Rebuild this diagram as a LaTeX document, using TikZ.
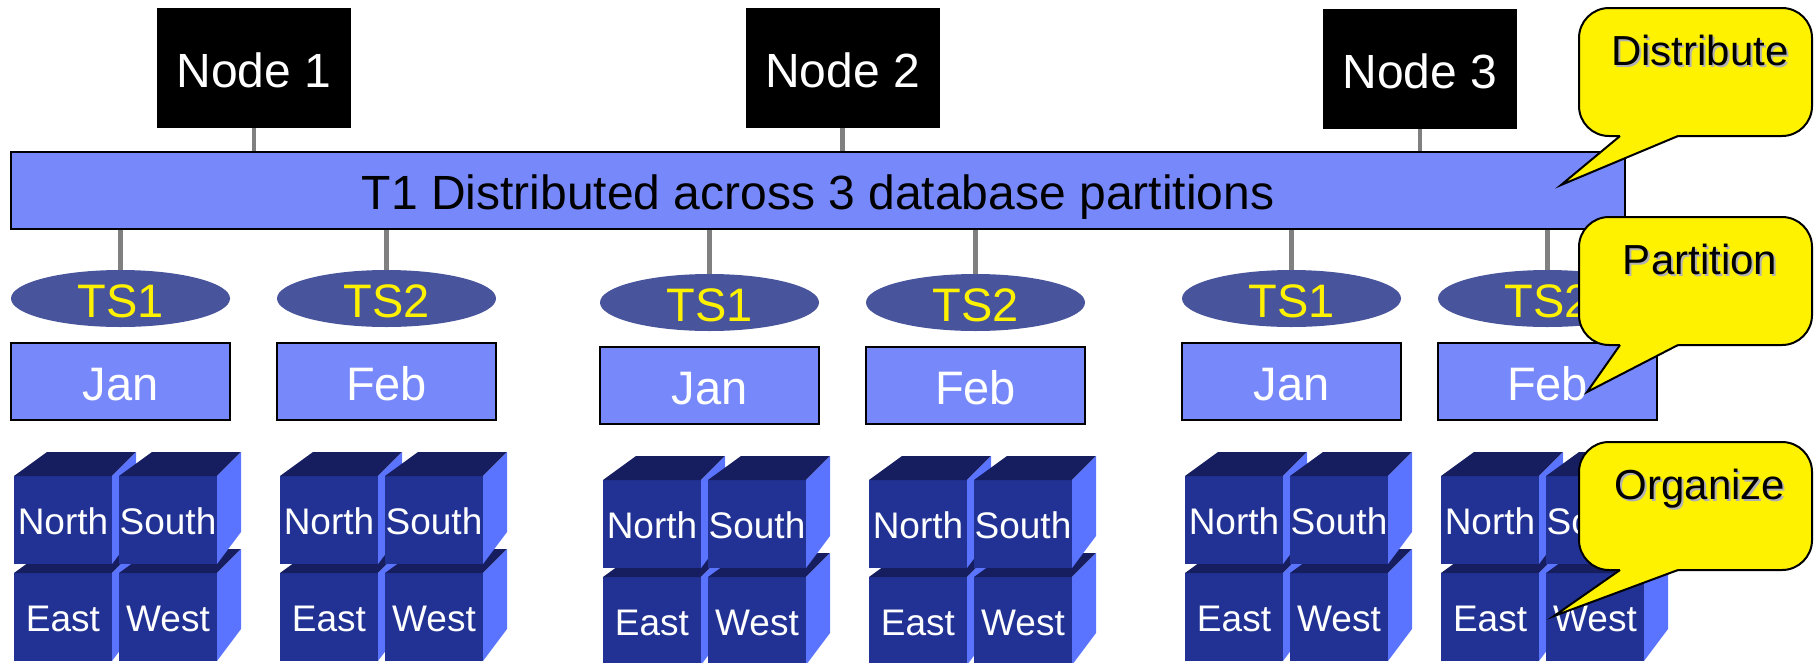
\documentclass[tikz,border=0pt]{standalone}
\usepackage{fontspec}
\setmainfont{Liberation Sans}
\usetikzlibrary{positioning,shapes.geometric}

\definecolor{tableblue}{RGB}{119,137,250}
\definecolor{tsblue}{RGB}{72,84,155}
\definecolor{cubefrontc}{RGB}{33,50,148}
\definecolor{cubetopc}{RGB}{22,30,96}
\definecolor{cubesidec}{RGB}{91,116,255}
\definecolor{linkgray}{RGB}{128,128,128}

\begin{document}
\begin{tikzpicture}[x=1pt, y=-1pt]

        \def\boxw{219}          % width of tablespaces and ranges
        \def\cubew{98}          % width of the front face of a cube
        \def\cubeh{88}          % height of the front face of a cube
        \tikzset{fontpx/.style = {font={\fontsize{#1pt}{#1pt}\selectfont}}}
        \tikzstyle{dbnode}=[fill=black,text=white,minimum width=194pt,minimum height=120pt,inner sep=0pt,fontpx=48,text height=38pt,text depth=0pt]
        \tikzstyle{tablebar}=[draw=black,line width=1.5pt,fill=tableblue,minimum width=1614pt,minimum height=77pt,inner sep=0pt,fontpx=48,text height=38pt,text depth=0pt]
        \tikzstyle{tspace}=[ellipse,fill=tsblue,text=yellow,minimum width=\boxw pt,minimum height=57pt,inner sep=0pt,fontpx=47,text height=37pt,text depth=0pt]
        \tikzstyle{monthbox}=[draw=black,line width=2pt,fill=tableblue,text=white,minimum width=\boxw pt,minimum height=77pt,inner sep=0pt,fontpx=47,text height=37pt,text depth=0pt]
        \tikzstyle{cubefront}=[fill=cubefrontc,text=white,minimum width=\cubew pt,minimum height=\cubeh pt,inner sep=0pt,outer sep=0pt,fontpx=37,text height=29pt,text depth=0pt]
        \tikzstyle{cubetop}=[fill=cubetopc]
        \tikzstyle{cubeside}=[fill=cubesidec]
        \tikzstyle{connector}=[draw=linkgray,line width=4.5pt]
        \tikzstyle{callbox}=[draw=black,line width=2pt,fill=yellow,rounded corners=30pt,minimum width=233pt,minimum height=128pt,inner sep=0pt,outer sep=0pt]
        \tikzstyle{calltext}=[fontpx=42,inner sep=0pt,text height=34pt,text depth=0pt]

        % cube: front top-left x, y, name, label
        \def\regioncube#1#2#3#4{%
                \node[cubefront] (#3) at ({#1+49},{#2+44}) {#4};
                \fill[cubetop] (#3.north west) -- ++(33,-24) -- ++(89,0) -- (#3.north east) -- cycle;
                \fill[cubeside] (#3.north east) -- ++(24,-24) -- ++(0,80) -- (#3.south east) -- cycle;
        }
        \def\shadowed#1{\rlap{\kern2pt\raisebox{-2pt}{\textcolor{black!30}{#1}}}#1}

        \useasboundingbox (0,0) rectangle (1814,662);

        % Draw the database partition nodes
        \node[dbnode] (Node-1) at (254,68) {Node 1};
        \node[dbnode] (Node-2) at (842.5,68) {Node 2};
        \node[dbnode] (Node-3) at (1420,69) {Node 3};

        % Draw the table
        \node[tablebar] (T1) at (818,190.5) {T1 Distributed across 3 database partitions};
        \foreach \n in {1,...,3}
                \draw[connector] (Node-\n) -- (Node-\n |- T1.north);

        % Draw the tablespaces, ranges and cubes
        \foreach \gx/\gy/\ts/\mon [count=\i] in {11/0/TS1/Jan, 277/0/TS2/Feb, 600/4/TS1/Jan, 866/4/TS2/Feb, 1182/0/TS1/Jan, 1438/0/TS2/Feb}{
                \node[tspace] (TS-\i) at ({\gx+109.5},{298.5+\gy}) {\ts};
                \draw[connector] (T1.south -| TS-\i) -- (TS-\i.north);
                \node[monthbox] (M-\i) at ({\gx+109.5},{381.5+\gy}) {\mon};
                % lower row first, the upper row covers its tops
                \regioncube{\gx+3}{573+\gy}{East-\i}{East}
                \regioncube{\gx+108}{573+\gy}{West-\i}{West}
                \regioncube{\gx+3}{476+\gy}{North-\i}{North}
                \regioncube{\gx+108}{476+\gy}{South-\i}{South}
        }

        % Draw the callouts
        \foreach \name/\top/\tipx/\tipy in {Distribute/8/1561/185, Partition/217/1587/392, Organize/442/1554/616}{
                \node[callbox] (\name) at (1695.5,{\top+64}) {};
                \coordinate (\name-tip) at (\tipx,\tipy);
                \fill[yellow] ([xshift=41pt,yshift=4pt]\name.south west) -- ([xshift=41pt]\name.south west) -- (\name-tip)
                        -- ([xshift=99pt]\name.south west) -- ([xshift=99pt,yshift=4pt]\name.south west) -- cycle;
                \draw[line width=2pt] ([xshift=41pt]\name.south west) -- (\name-tip) -- ([xshift=99pt]\name.south west);
                \node[calltext] (\name-text) at (1700,{\top+40}) {\shadowed{\name}};
        }

\end{tikzpicture}
\end{document}
